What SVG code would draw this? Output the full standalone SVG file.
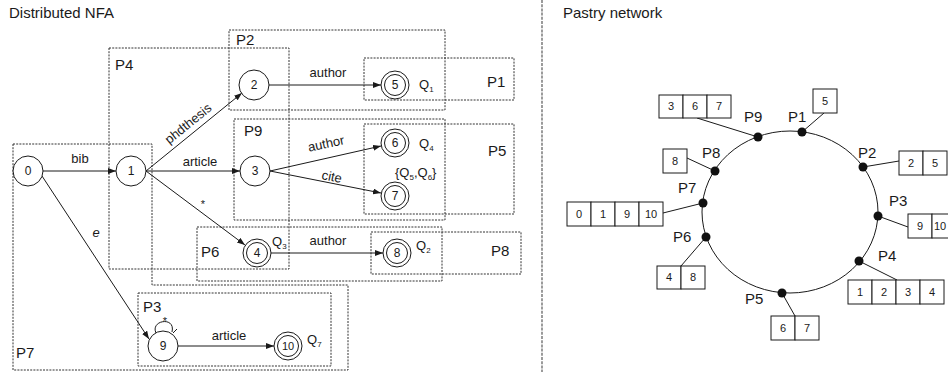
<svg xmlns="http://www.w3.org/2000/svg" width="948" height="372" viewBox="0 0 948 372">
<defs>
<marker id="arr" markerUnits="userSpaceOnUse" markerWidth="9" markerHeight="7" refX="8" refY="3" orient="auto"><path d="M0,0 L8,3 L0,6 z" fill="#1a1a1a"/></marker>
<style>
text{font-family:"Liberation Sans",Arial,Helvetica,sans-serif;fill:#1a1a1a}
.title{font-size:15px}
.pl{font-size:15px}
.el{font-size:13px;text-anchor:middle}
.nl{font-size:12px;text-anchor:middle}
.q{font-size:13px}
.sub{font-size:8px}
.st{fill:#fff;stroke:#1a1a1a;stroke-width:1}
.part{fill:none;stroke:#333;stroke-width:1;stroke-dasharray:2 1.2}
.edge{fill:none;stroke:#1a1a1a;stroke-width:1;marker-end:url(#arr)}
.link{stroke:#1a1a1a;stroke-width:1}
.dot{fill:#111}
.cell{fill:#fff;stroke:#1a1a1a;stroke-width:1}
.ct{font-size:11px;text-anchor:middle}
</style>
</defs>
<rect width="948" height="372" fill="#fff"/>
<text class="title" x="9" y="18">Distributed NFA</text>
<text class="title" x="563" y="18">Pastry network</text>
<line x1="542" y1="0" x2="542" y2="372" stroke="#666" stroke-width="1.3" stroke-dasharray="3 1.2"/>

<g id="partitions">
<g id="part-P2"><rect class="part" x="229" y="30" width="216" height="80"/><text class="pl" x="236" y="45">P2</text></g>
<g id="part-P4"><rect class="part" x="109" y="48" width="180" height="221"/><text class="pl" x="115" y="70">P4</text></g>
<g id="part-P1"><rect class="part" x="364" y="58" width="150" height="42"/><text class="pl" x="487" y="87">P1</text></g>
<g id="part-P9"><rect class="part" x="234" y="119" width="211" height="101"/><text class="pl" x="244" y="136">P9</text></g>
<g id="part-P5"><rect class="part" x="364" y="124" width="150" height="90"/><text class="pl" x="488" y="156">P5</text></g>
<g id="part-P6"><rect class="part" x="197" y="227" width="245" height="54"/><text class="pl" x="201" y="257">P6</text></g>
<g id="part-P8"><rect class="part" x="371" y="232" width="150" height="42"/><text class="pl" x="491" y="256">P8</text></g>
<g id="part-P3"><rect class="part" x="138" y="293" width="193" height="73"/><text class="pl" x="143" y="312">P3</text></g>
<g id="part-P7"><polygon class="part" points="13,144 152,144 152,285 348,285 348,370 13,370"/><text class="pl" x="16" y="358">P7</text></g>
</g>

<g id="connectors">
<line class="edge" x1="43" y1="171" x2="116" y2="171"/>
<text class="el" x="80" y="163">bib</text>
<line class="edge" x1="42" y1="176" x2="149" y2="339"/>
<text class="el" x="96" y="237" font-style="italic">e</text>
<line class="edge" x1="146" y1="171" x2="242" y2="93"/>
<text class="el" transform="translate(191,127) rotate(-39)">phdthesis</text>
<line class="edge" x1="146" y1="171" x2="240" y2="171"/>
<text class="el" x="200" y="166">article</text>
<line class="edge" x1="146" y1="171" x2="245" y2="245"/>
<text class="el" x="203" y="208" style="font-size:11px">*</text>
<line class="edge" x1="269" y1="85" x2="381" y2="85"/>
<text class="el" x="328" y="77">author</text>
<line class="edge" x1="270" y1="171" x2="381" y2="146"/>
<text class="el" transform="translate(327,148) rotate(-12)">author</text>
<line class="edge" x1="270" y1="171" x2="381" y2="193"/>
<text class="el" transform="translate(331,181) rotate(12)">cite</text>
<line class="edge" x1="271" y1="253" x2="383" y2="253"/>
<text class="el" x="328" y="245">author</text>
<line class="edge" x1="178" y1="346" x2="274" y2="346"/>
<text class="el" x="229" y="340">article</text>
<path d="M156,333 C150,320 176,316 172,332" fill="none" stroke="#1a1a1a" stroke-width="1"/>
<polyline points="173,333 177,329" fill="none" stroke="#1a1a1a" stroke-width="1"/>
<text class="el" x="165" y="325" style="font-size:11px">*</text>
</g>

<g id="n0"><circle class="st" cx="28" cy="171" r="15"/><text class="nl" x="28" y="175">0</text></g>
<g id="n1"><circle class="st" cx="131" cy="171" r="15"/><text class="nl" x="131" y="175">1</text></g>
<g id="n2"><circle class="st" cx="254" cy="85" r="15"/><text class="nl" x="254" y="89">2</text></g>
<g id="n3"><circle class="st" cx="255" cy="171" r="15"/><text class="nl" x="255" y="175">3</text></g>
<g id="n9"><circle class="st" cx="163" cy="346" r="15"/><text class="nl" x="163" y="350">9</text></g>
<g id="n5"><circle class="st" cx="395" cy="85" r="14"/><circle class="st" cx="395" cy="85" r="10.5"/><text class="nl" x="395" y="89">5</text><text class="q" x="419" y="89">Q<tspan class="sub" dy="3">1</tspan></text></g>
<g id="n6"><circle class="st" cx="395" cy="143" r="14"/><circle class="st" cx="395" cy="143" r="10.5"/><text class="nl" x="395" y="147">6</text><text class="q" x="419" y="148">Q<tspan class="sub" dy="3">4</tspan></text></g>
<g id="n7"><circle class="st" cx="395" cy="196" r="14"/><circle class="st" cx="395" cy="196" r="10.5"/><text class="nl" x="395" y="200">7</text><text class="q" x="395" y="177">{Q<tspan class="sub" dy="3">5</tspan><tspan dy="-3">,Q</tspan><tspan class="sub" dy="3">6</tspan><tspan dy="-3">}</tspan></text></g>
<g id="n4"><circle class="st" cx="257" cy="253" r="14"/><circle class="st" cx="257" cy="253" r="10.5"/><text class="nl" x="257" y="257">4</text><text class="q" x="272" y="246">Q<tspan class="sub" dy="3">3</tspan></text></g>
<g id="n8"><circle class="st" cx="397" cy="253" r="14"/><circle class="st" cx="397" cy="253" r="10.5"/><text class="nl" x="397" y="257">8</text><text class="q" x="416" y="250">Q<tspan class="sub" dy="3">2</tspan></text></g>
<g id="n10"><circle class="st" cx="288" cy="346" r="14"/><circle class="st" cx="288" cy="346" r="10.5"/><text class="nl" x="288" y="350" style="font-size:11px">10</text><text class="q" x="307" y="344">Q<tspan class="sub" dy="3">7</tspan></text></g>

<g id="ring"><ellipse cx="790" cy="212" rx="88" ry="81" fill="none" stroke="#1a1a1a" stroke-width="1"/></g>

<g id="peer-P1"><line class="link" x1="802" y1="132" x2="824" y2="113"/><circle class="dot" cx="802" cy="132" r="4.5"/><text class="pl" x="788" y="122">P1</text>
<rect class="cell" x="813" y="89" width="24" height="24"/><text class="ct" x="825" y="105">5</text></g>
<g id="peer-P9"><line class="link" x1="758" y1="137" x2="697" y2="118"/><circle class="dot" cx="758" cy="137" r="4.5"/><text class="pl" x="744" y="122">P9</text>
<rect class="cell" x="659" y="95" width="24" height="23"/><rect class="cell" x="683" y="95" width="24" height="23"/><rect class="cell" x="707" y="95" width="24" height="23"/>
<text class="ct" x="671" y="110">3</text><text class="ct" x="695" y="110">6</text><text class="ct" x="719" y="110">7</text></g>
<g id="peer-P8"><line class="link" x1="715" y1="171" x2="687" y2="158"/><circle class="dot" cx="715" cy="171" r="4.5"/><text class="pl" x="702" y="158">P8</text>
<rect class="cell" x="663" y="149" width="24" height="24"/><text class="ct" x="675" y="165">8</text></g>
<g id="peer-P2"><line class="link" x1="863" y1="167" x2="899" y2="161"/><circle class="dot" cx="863" cy="167" r="4.5"/><text class="pl" x="858" y="158">P2</text>
<rect class="cell" x="899" y="151" width="24" height="24"/><rect class="cell" x="923" y="151" width="24" height="24"/>
<text class="ct" x="911" y="167">2</text><text class="ct" x="935" y="167">5</text></g>
<g id="peer-P7"><line class="link" x1="703" y1="203" x2="663" y2="213"/><circle class="dot" cx="703" cy="203" r="4.5"/><text class="pl" x="678" y="193">P7</text>
<rect class="cell" x="567" y="202" width="24" height="24"/><rect class="cell" x="591" y="202" width="24" height="24"/><rect class="cell" x="615" y="202" width="24" height="24"/><rect class="cell" x="639" y="202" width="24" height="24"/>
<text class="ct" x="579" y="218">0</text><text class="ct" x="603" y="218">1</text><text class="ct" x="627" y="218">9</text><text class="ct" x="651" y="218">10</text></g>
<g id="peer-P3"><line class="link" x1="878" y1="216" x2="908" y2="227"/><circle class="dot" cx="878" cy="216" r="4.5"/><text class="pl" x="889" y="206">P3</text>
<rect class="cell" x="908" y="214" width="24" height="24"/><rect class="cell" x="932" y="214" width="24" height="24"/>
<text class="ct" x="920" y="230">9</text><text class="ct" x="940" y="230">10</text></g>
<g id="peer-P6"><line class="link" x1="706" y1="237" x2="681" y2="266"/><circle class="dot" cx="706" cy="237" r="4.5"/><text class="pl" x="673" y="242">P6</text>
<rect class="cell" x="657" y="266" width="24" height="23"/><rect class="cell" x="681" y="266" width="24" height="23"/>
<text class="ct" x="669" y="281">4</text><text class="ct" x="693" y="281">8</text></g>
<g id="peer-P4"><line class="link" x1="859" y1="261" x2="897" y2="280"/><circle class="dot" cx="859" cy="261" r="4.5"/><text class="pl" x="878" y="261">P4</text>
<rect class="cell" x="848" y="280" width="24" height="24"/><rect class="cell" x="872" y="280" width="24" height="24"/><rect class="cell" x="896" y="280" width="24" height="24"/><rect class="cell" x="920" y="280" width="24" height="24"/>
<text class="ct" x="860" y="296">1</text><text class="ct" x="884" y="296">2</text><text class="ct" x="908" y="296">3</text><text class="ct" x="932" y="296">4</text></g>
<g id="peer-P5"><line class="link" x1="782" y1="293" x2="795" y2="316"/><circle class="dot" cx="782" cy="293" r="4.5"/><text class="pl" x="745" y="304">P5</text>
<rect class="cell" x="771" y="316" width="24" height="24"/><rect class="cell" x="795" y="316" width="24" height="24"/>
<text class="ct" x="783" y="332">6</text><text class="ct" x="807" y="332">7</text></g>
</svg>
